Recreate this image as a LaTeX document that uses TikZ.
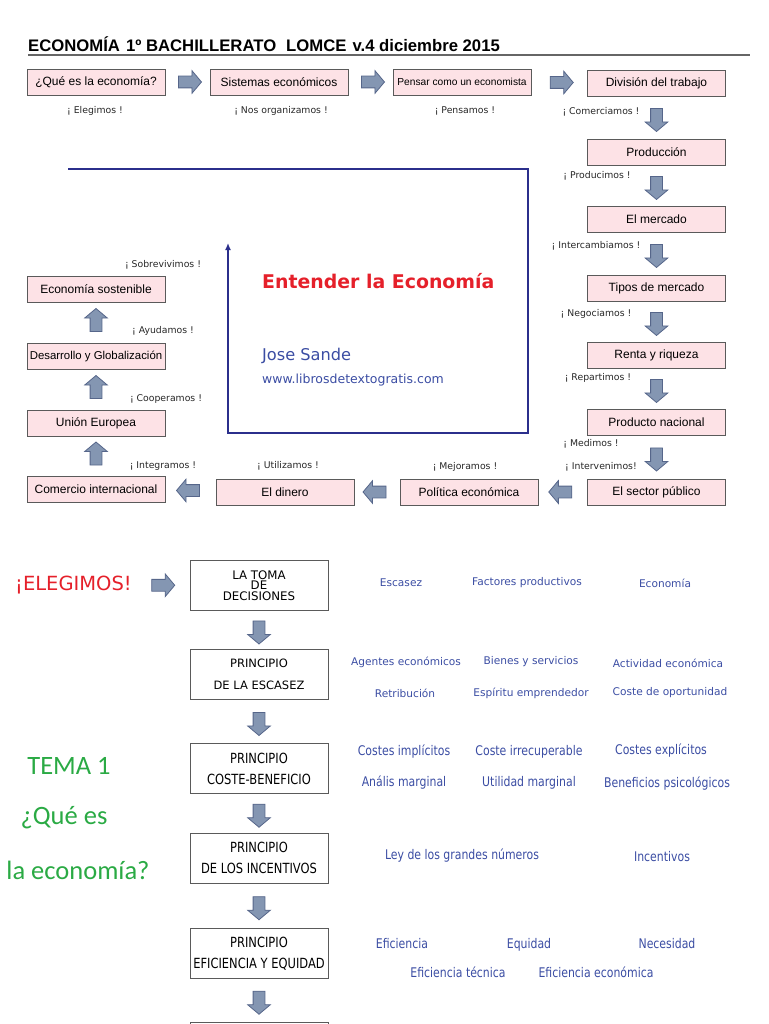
\documentclass[tikz,border=0pt]{standalone}
\usepackage{fontspec}
\setmainfont{Liberation Sans}
\newfontfamily\dejavu{DejaVu Sans}
\newfontfamily\dejacond[FakeStretch=0.82]{DejaVu Sans}
\newfontfamily\carlito{Carlito}
\usetikzlibrary{shapes.arrows,calc,arrows.meta}
\definecolor{boxpink}{HTML}{FDE2E6}
\definecolor{boxgray}{HTML}{5A5A5A}
\definecolor{arrowfill}{HTML}{8496B2}
\definecolor{arrowedge}{HTML}{56668A}
\definecolor{framenavy}{HTML}{2B2F8C}
\definecolor{titlered}{HTML}{E5202A}
\definecolor{temagreen}{HTML}{2AAA44}
\definecolor{keyblue}{HTML}{3B4DA3}
\tikzset{
  pinkbox/.style={draw=boxgray, fill=boxpink, line width=0.9pt, minimum width=138pt, minimum height=26pt, inner sep=1pt, font=\fontsize{12}{14}\selectfont},
  whitebox/.style={draw=boxgray, fill=white, line width=0.9pt, minimum width=138pt, minimum height=50pt, inner sep=1pt, align=center},
  motto/.style={font=\dejavu\fontsize{9.3}{11}\selectfont, text=black!85},
  keyword/.style={font=\dejavu\fontsize{10.6}{12}\selectfont, text=keyblue},
  keycond/.style={font=\dejacond\fontsize{13.3}{15}\selectfont, text=keyblue},
  tema/.style={font=\carlito\fontsize{26.5}{30}\selectfont, text=temagreen},
  barrow/.style={single arrow, draw=arrowedge, fill=arrowfill, line width=0.8pt, minimum height=23pt, inner sep=5.5pt, single arrow head extend=5.5pt, single arrow tip angle=100},
  barrowR/.style={barrow, shape border rotate=0},
  barrowL/.style={barrow, shape border rotate=180},
  barrowU/.style={barrow, shape border rotate=90},
  barrowD/.style={barrow, shape border rotate=270}
}

\begin{document}
\begin{tikzpicture}[x=1pt,y=-1pt]
  \pgfmathsetmacro{\colL}{96};
  \pgfmathsetmacro{\colR}{656.5};
  \pgfmathsetmacro{\colM}{259};
  \useasboundingbox (0,0) rectangle (768,1024);
  \clip (0,0) rectangle (768,1024);
  \node[anchor=west, font=\bfseries\fontsize{16.7}{18}\selectfont, inner sep=0pt] (title) at (28,44) {ECONOMÍA\hspace{6pt}1º BACHILLERATO\hspace{10pt}LOMCE\hspace{6pt}v.4 diciembre 2015};
  \draw[black!60, line width=1.2pt] (28,55) -- (750,55);
  \node[pinkbox] (que) at (\colL,82) {¿Qué es la economía?};
  \node[pinkbox] (sist) at (279,82) {Sistemas económicos};
  \node[pinkbox, font=\fontsize{10.2}{11}\selectfont] (pens) at (462,82) {Pensar como un economista};
  \node[pinkbox] (divi) at (\colR,83) {División del trabajo};
  \node[pinkbox] (prod) at (\colR,152) {Producción};
  \node[pinkbox] (merc) at (\colR,219) {El mercado};
  \node[pinkbox] (tipo) at (\colR,288) {Tipos de mercado};
  \node[pinkbox] (rent) at (\colR,355) {Renta y riqueza};
  \node[pinkbox] (pnac) at (\colR,422) {Producto nacional};
  \node[pinkbox] (spub) at (\colR,492) {El sector público};
  \node[pinkbox] (poli) at (469,492) {Política económica};
  \node[pinkbox] (dine) at (285,492) {El dinero};
  \node[pinkbox] (come) at (\colL,489) {Comercio internacional};
  \node[pinkbox] (unie) at (\colL,423) {Unión Europea};
  \node[pinkbox, font=\fontsize{11.4}{13}\selectfont] (desa) at (\colL,356) {Desarrollo y Globalización};
  \node[pinkbox] (sost) at (\colL,289) {Economía sostenible};
  \node[barrowR] (a1) at ($(que.east)!0.5!(sist.west)$) {};
  \node[barrowR] (a2) at ($(sist.east)!0.5!(pens.west)$) {};
  \node[barrowR] (a3) at ($(pens.east)!0.5!(divi.west)$) {};
  \node[barrowD] (a4) at ($(divi.south)!0.5!(prod.north)$) {};
  \node[barrowD] (a5) at ($(prod.south)!0.5!(merc.north)$) {};
  \node[barrowD] (a6) at ($(merc.south)!0.5!(tipo.north)$) {};
  \node[barrowD] (a7) at ($(tipo.south)!0.5!(rent.north)$) {};
  \node[barrowD] (a8) at ($(rent.south)!0.5!(pnac.north)$) {};
  \node[barrowD] (a9) at ($(pnac.south)!0.5!(spub.north)$) {};
  \node[barrowL] (a10) at ($(spub.west)!0.5!(poli.east)$) {};
  \node[barrowL] (a11) at ($(poli.west)!0.5!(dine.east)$) {};
  \node[barrowL] (a12) at ($(dine.west)!0.5!(come.east)$) {};
  \node[barrowU] (a13) at ($(come.north)!0.5!(unie.south)$) {};
  \node[barrowU] (a14) at ($(unie.north)!0.5!(desa.south)$) {};
  \node[barrowU] (a15) at ($(desa.north)!0.5!(sost.south)$) {};
  \node[motto] (m1) at (95,111) {¡ Elegimos !};
  \node[motto] (m2) at (281,111) {¡ Nos organizamos !};
  \node[motto] (m3) at (465,111) {¡ Pensamos !};
  \node[motto] (m4) at (601,112) {¡ Comerciamos !};
  \node[motto] (m5) at (597,176) {¡ Producimos !};
  \node[motto] (m6) at (596,246) {¡ Intercambiamos !};
  \node[motto] (m7) at (596,314) {¡ Negociamos !};
  \node[motto] (m8) at (598,378) {¡ Repartimos !};
  \node[motto] (m9) at (591,444) {¡ Medimos !};
  \node[motto] (m10) at (601,467) {¡ Intervenimos!};
  \node[motto] (m11) at (465,467) {¡ Mejoramos !};
  \node[motto] (m12) at (288,466) {¡ Utilizamos !};
  \node[motto] (m13) at (163,466) {¡ Integramos !};
  \node[motto] (m14) at (166,399) {¡ Cooperamos !};
  \node[motto] (m15) at (163,331) {¡ Ayudamos !};
  \node[motto] (m16) at (163,265) {¡ Sobrevivimos !};
  \coordinate (f1) at (68,169);
  \coordinate (f2) at (528,169);
  \coordinate (f3) at (528,433);
  \coordinate (f4) at (228,433);
  \coordinate (f5) at (228,243);
  \draw[framenavy, line width=2.4pt, -{Latex[length=7pt,width=6pt]}] (f1) -- (f2) -- (f3) -- (f4) -- (f5);
  \node[anchor=west, inner sep=0pt, text=titlered, font=\dejavu\bfseries\fontsize{18.9}{21}\selectfont] (enten) at (262,281) {Entender la Economía};
  \node[anchor=west, inner sep=0pt, text=keyblue, font=\dejavu\fontsize{16.2}{18}\selectfont] (autor) at (262,356) {Jose Sande};
  \node[anchor=west, inner sep=0pt, text=keyblue, font=\dejavu\fontsize{12.5}{14}\selectfont] (web) at (262,380) {www.librosdetextogratis.com};
  \node[anchor=west, inner sep=0pt, text=titlered, font=\dejavu\fontsize{19.5}{22}\selectfont] (eleg) at (15,585) {¡ELEGIMOS!};
  \node[whitebox, font=\dejavu\fontsize{11.8}{10.5}\selectfont] (toma) at (\colM,585.5) {LA TOMA\\DE\\DECISIONES};
  \node[whitebox, font=\dejavu\fontsize{11.5}{22}\selectfont] (esca) at (\colM,674.5) {PRINCIPIO\\DE LA ESCASEZ};
  \node[whitebox, font=\dejacond\fontsize{14}{21}\selectfont] (cost) at (\colM,768.5) {PRINCIPIO\\COSTE-BENEFICIO};
  \node[whitebox, font=\dejacond\fontsize{14}{21}\selectfont] (ince) at (\colM,858) {PRINCIPIO\\DE LOS INCENTIVOS};
  \node[whitebox, font=\dejacond\fontsize{14}{21}\selectfont] (efic) at (\colM,953.5) {PRINCIPIO\\EFICIENCIA Y EQUIDAD};
  \node[whitebox] (sigu) at (\colM,1047) {};
  \node[barrowR] (b0) at ($(eleg.east)!0.5!(toma.west)$) {};
  \node[barrowD] (b1) at ($(toma.south)!0.5!(esca.north)$) {};
  \node[barrowD] (b2) at ($(esca.south)!0.5!(cost.north)$) {};
  \node[barrowD] (b3) at ($(cost.south)!0.5!(ince.north)$) {};
  \node[barrowD] (b4) at ($(ince.south)!0.5!(efic.north)$) {};
  \node[barrowD] (b5) at ($(efic.south)!0.5!(sigu.north)$) {};
  \node[tema] (t1) at (69,766) {TEMA 1};
  \node[tema] (t2) at (64,818) {¿Qué es};
  \node[tema] (t3) at (78,870) {la economía?};
  \node[keyword] (k1) at (401,583) {Escasez};
  \node[keyword] (k2) at (527,583) {Factores productivos};
  \node[keyword] (k3) at (665,583) {Economía};
  \node[keyword] (k4) at (406,662) {Agentes económicos};
  \node[keyword] (k5) at (531,662) {Bienes y servicios};
  \node[keyword] (k6) at (668,663) {Actividad económica};
  \node[keyword] (k7) at (405,693) {Retribución};
  \node[keyword] (k8) at (531,693) {Espíritu emprendedor};
  \node[keyword] (k9) at (670,693) {Coste de oportunidad};
  \node[keycond] (k10) at (404,752) {Costes implícitos};
  \node[keycond] (k11) at (529,752) {Coste irrecuperable};
  \node[keycond] (k12) at (661,751) {Costes explícitos};
  \node[keycond] (k13) at (404,783) {Anális marginal};
  \node[keycond] (k14) at (529,783) {Utilidad marginal};
  \node[keycond] (k15) at (667,784) {Beneficios psicológicos};
  \node[keycond] (k16) at (462,856) {Ley de los grandes números};
  \node[keycond] (k17) at (662,857) {Incentivos};
  \node[keycond] (k18) at (402,944) {Eficiencia};
  \node[keycond] (k19) at (529,945) {Equidad};
  \node[keycond] (k20) at (667,944) {Necesidad};
  \node[keycond] (k21) at (458,972) {Eficiencia técnica};
  \node[keycond] (k22) at (596,972) {Eficiencia económica};
\end{tikzpicture}
\end{document}
